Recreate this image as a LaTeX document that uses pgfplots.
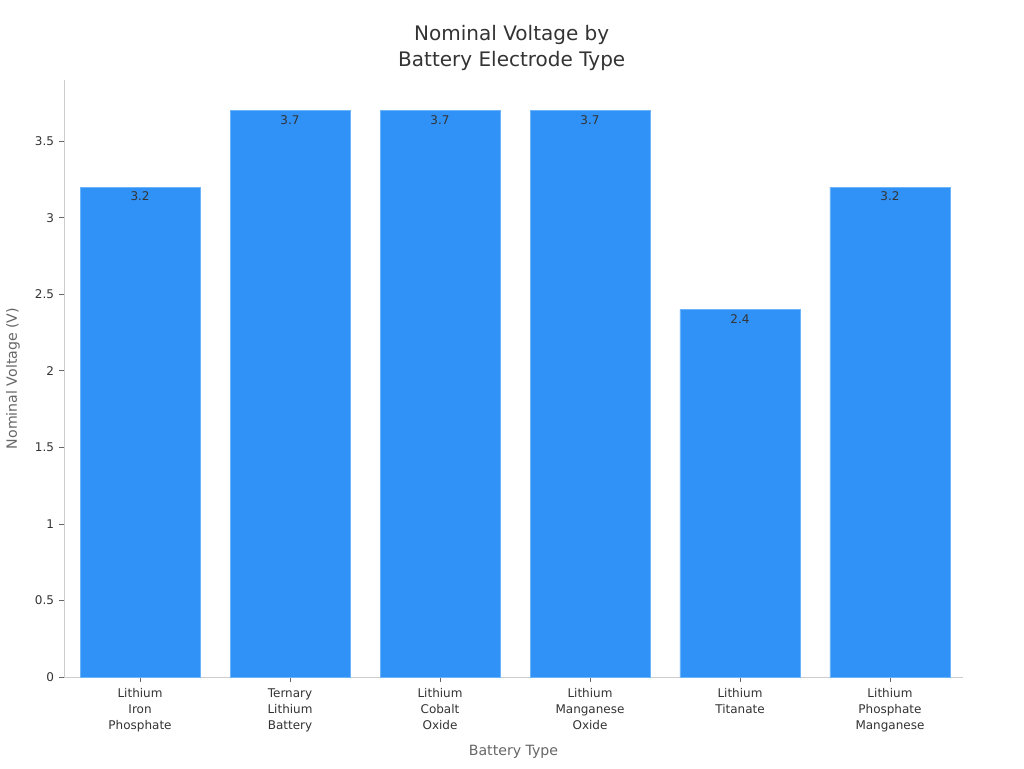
\documentclass[border=0pt]{standalone}
\usepackage{fontspec}
\setmainfont{DejaVu Sans}
\usepackage{pgfplots}
\pgfplotsset{compat=1.18}
\definecolor{barblue}{HTML}{3092F6}
\definecolor{baredge}{HTML}{6CB4FA}
\definecolor{axisgray}{HTML}{CCCCCC}
\definecolor{textdark}{HTML}{333333}
\definecolor{labelgray}{HTML}{666666}
\begin{document}
\begin{tikzpicture}
\useasboundingbox (0,0) rectangle (768pt,576pt);
\begin{axis}[
    at={(48pt,68.25pt)}, anchor=south west,
    scale only axis,
    width=674.25pt, height=447.75pt,
    /pgf/number format/assume math mode=true,
    ybar, bar width=0.8,
    xmin=-0.507, xmax=5.487,
    ymin=0, ymax=3.9,
    axis lines=left,
    axis line style={axisgray, -},
    xtick={0,1,2,3,4,5},
    xticklabels={Lithium\\Iron\\Phosphate, Ternary\\Lithium\\Battery, Lithium\\Cobalt\\Oxide, Lithium\\Manganese\\Oxide, Lithium\\Titanate, Lithium\\Phosphate\\Manganese},
    ytick={0,0.5,1,1.5,2,2.5,3,3.5},
    tick align=outside,
    major tick length=4pt,
    tick style={labelgray, line width=0.6pt},
    xticklabel style={align=center, font=\fontsize{9}{12}\selectfont, text=textdark, yshift=-1pt},
    yticklabel style={font=\fontsize{9}{11}\selectfont, text=textdark},
    title={Nominal Voltage by\\Battery Electrode Type},
    title style={align=center, font=\fontsize{15}{19.5}\selectfont, text=textdark,
        at={(axis description cs:0.498,1.040)}, anchor=center},
    xlabel={Battery Type},
    xlabel style={font=\fontsize{10.6}{12}\selectfont, text=labelgray,
        at={(axis description cs:0.5,-0.126)}, anchor=center},
    ylabel={Nominal Voltage (V)},
    ylabel style={font=\fontsize{10.6}{12}\selectfont, text=labelgray,
        at={(axis description cs:-0.0567,0.5)}, anchor=center},
    nodes near coords,
    every node near coord/.append style={anchor=north, yshift=0pt,
        font=\fontsize{9}{10}\selectfont, text=textdark},
]
\addplot[fill=barblue, draw=baredge, line width=0.6pt]
    coordinates {
    (0,3.2)(1,3.7)(2,3.7)(3,3.7)(4,2.4)(5,3.2)
    };
\end{axis}
\end{tikzpicture}
\end{document}
